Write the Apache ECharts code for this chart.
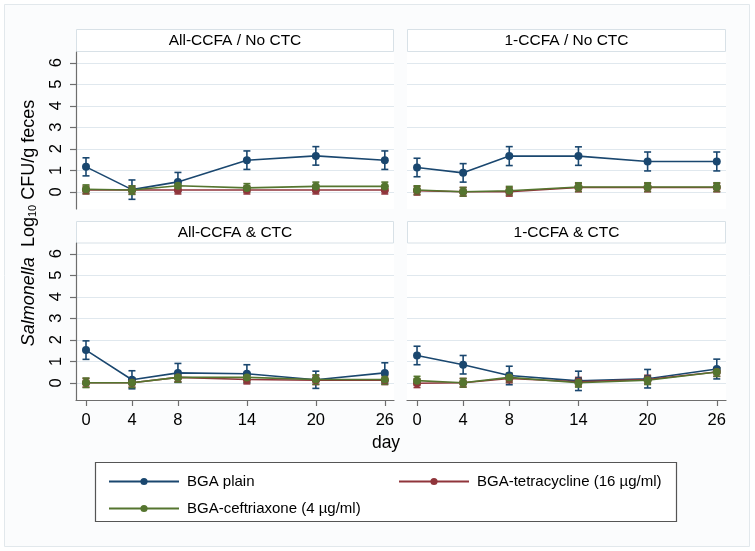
<!DOCTYPE html>
<html>
<head>
<meta charset="utf-8">
<script src="https://cdn.jsdelivr.net/npm/echarts@6/dist/echarts.min.js"></script>
<style>html,body{margin:0;padding:0;background:#fff}#chart{width:755px;height:551px}</style>
</head>
<body>
<div id="chart"></div>
<script>
// ---------- data ----------
const days = [0, 4, 8, 14, 20, 26];
const yTicks = [0, 1, 2, 3, 4, 5, 6];
const panelTitles = ['All-CCFA / No CTC', '1-CCFA / No CTC', 'All-CCFA & CTC', '1-CCFA & CTC'];
const seriesNames = ['BGA plain', 'BGA-tetracycline (16 µg/ml)', 'BGA-ceftriaxone (4 µg/ml)'];

// All-CCFA / No CTC
const allNoCtcPlain = [1.16, 0.10, 0.46, 1.47, 1.67, 1.47];
const allNoCtcPlainErr = [0.42, 0.45, 0.44, 0.43, 0.43, 0.43];
const allNoCtcTetra = [0.08, 0.08, 0.08, 0.08, 0.08, 0.08];
const allNoCtcTetraErr = [0.18, 0.18, 0.18, 0.18, 0.18, 0.18];
const allNoCtcCeft = [0.12, 0.08, 0.28, 0.18, 0.25, 0.25];
const allNoCtcCeftErr = [0.20, 0.20, 0.20, 0.20, 0.20, 0.20];

// 1-CCFA / No CTC
const oneNoCtcPlain = [1.13, 0.88, 1.66, 1.66, 1.41, 1.41];
const oneNoCtcPlainErr = [0.43, 0.43, 0.44, 0.43, 0.44, 0.44];
const oneNoCtcTetra = [0.05, 0.00, 0.00, 0.20, 0.20, 0.20];
const oneNoCtcTetraErr = [0.20, 0.20, 0.20, 0.20, 0.20, 0.20];
const oneNoCtcCeft = [0.08, 0.00, 0.05, 0.22, 0.22, 0.22];
const oneNoCtcCeftErr = [0.20, 0.20, 0.20, 0.20, 0.20, 0.20];

// All-CCFA & CTC
const allCtcPlain = [1.52, 0.14, 0.46, 0.42, 0.14, 0.46];
const allCtcPlainErr = [0.43, 0.42, 0.44, 0.42, 0.40, 0.47];
const allCtcTetra = [0.00, 0.00, 0.25, 0.15, 0.12, 0.12];
const allCtcTetraErr = [0.20, 0.20, 0.20, 0.20, 0.20, 0.20];
const allCtcCeft = [0.00, 0.00, 0.25, 0.25, 0.15, 0.15];
const allCtcCeftErr = [0.22, 0.22, 0.22, 0.22, 0.22, 0.22];

// 1-CCFA & CTC
const oneCtcPlain = [1.27, 0.84, 0.34, 0.09, 0.19, 0.64];
const oneCtcPlainErr = [0.43, 0.43, 0.43, 0.45, 0.43, 0.46];
const oneCtcTetra = [-0.02, 0.00, 0.20, 0.05, 0.15, 0.50];
const oneCtcTetraErr = [0.20, 0.20, 0.20, 0.20, 0.20, 0.20];
const oneCtcCeft = [0.10, 0.00, 0.25, 0.00, 0.12, 0.50];
const oneCtcCeftErr = [0.20, 0.20, 0.20, 0.20, 0.20, 0.20];

// ---------- layout / style ----------
const FONT = 'Liberation Sans, Arial, sans-serif';
const colors = ['#1a476f', '#90353b', '#55752f'];
const panels = [
  [[allNoCtcPlain, allNoCtcPlainErr], [allNoCtcTetra, allNoCtcTetraErr], [allNoCtcCeft, allNoCtcCeftErr]],
  [[oneNoCtcPlain, oneNoCtcPlainErr], [oneNoCtcTetra, oneNoCtcTetraErr], [oneNoCtcCeft, oneNoCtcCeftErr]],
  [[allCtcPlain, allCtcPlainErr], [allCtcTetra, allCtcTetraErr], [allCtcCeft, allCtcCeftErr]],
  [[oneCtcPlain, oneCtcPlainErr], [oneCtcTetra, oneCtcTetraErr], [oneCtcCeft, oneCtcCeftErr]]
];
const gridBoxes = [
  {left: 76, top: 52, width: 318, height: 157},
  {left: 407, top: 52, width: 319, height: 157},
  {left: 76, top: 243, width: 318, height: 157},
  {left: 407, top: 243, width: 319, height: 157}
];
const strips = [
  {x: 76, y: 29.5, w: 318, h: 22},
  {x: 407, y: 29.5, w: 319, h: 22},
  {x: 76, y: 221.5, w: 318, h: 21.5},
  {x: 407, y: 221.5, w: 319, h: 21.5}
];

const grids = gridBoxes.map(g => Object.assign({containLabel: false}, g));
const xAxes = gridBoxes.map((g, i) => ({
  type: 'value', gridIndex: i, min: -0.87, max: 26.8,
  show: i >= 2,
  axisLine: {show: true, onZero: false, lineStyle: {color: '#6e6e6e', width: 1.2}},
  axisTick: {show: true, length: 6, customValues: days, lineStyle: {color: '#6e6e6e', width: 1.2}},
  axisLabel: {show: true, customValues: days, fontSize: 16.5, fontFamily: FONT, color: '#000', margin: 12},
  splitLine: {show: false}
}));
const yAxes = gridBoxes.map((g, i) => ({
  type: 'value', gridIndex: i, min: -0.8, max: 6.5,
  axisLine: {show: i % 2 === 0, onZero: false, lineStyle: {color: '#6e6e6e', width: 1.2}},
  axisTick: {show: i % 2 === 0, length: 6, customValues: yTicks, lineStyle: {color: '#6e6e6e', width: 1.2}},
  axisLabel: {show: i % 2 === 0, customValues: yTicks, rotate: 90, fontSize: 16.5, fontFamily: FONT, color: '#000', margin: 11},
  splitLine: {show: true, lineStyle: {color: '#e0e8ee', width: 1.2}}
}));

const series = [];
panels.forEach((panel, pi) => {
  panel.forEach(([mean, err], si) => {
    const col = colors[si];
    series.push({
      type: 'custom', name: seriesNames[si] + ' CI', xAxisIndex: pi, yAxisIndex: pi,
      data: days.map((d, k) => [d, mean[k] - err[k], mean[k] + err[k]]),
      encode: {x: 0, y: [1, 2]},
      renderItem: function (params, api) {
        const x = api.value(0);
        const pLo = api.coord([x, api.value(1)]);
        const pHi = api.coord([x, api.value(2)]);
        const w = 3.5;
        const st = {stroke: col, lineWidth: 1.6, fill: null};
        return {type: 'group', children: [
          {type: 'line', shape: {x1: pLo[0], y1: pLo[1], x2: pHi[0], y2: pHi[1]}, style: st},
          {type: 'line', shape: {x1: pLo[0] - w, y1: pLo[1], x2: pLo[0] + w, y2: pLo[1]}, style: st},
          {type: 'line', shape: {x1: pHi[0] - w, y1: pHi[1], x2: pHi[0] + w, y2: pHi[1]}, style: st}
        ]};
      },
      silent: true, animation: false
    });
    series.push({
      type: 'line', name: seriesNames[si], xAxisIndex: pi, yAxisIndex: pi,
      data: days.map((d, k) => [d, mean[k]]),
      symbol: 'circle', symbolSize: 8, showSymbol: true,
      itemStyle: {color: col}, lineStyle: {color: col, width: 1.6},
      animation: false, silent: true
    });
  });
});

const graphics = [
  {type: 'rect', shape: {x: 4.5, y: 4.5, width: 745, height: 542}, style: {fill: '#fbfcfd', stroke: '#e2e8ec', lineWidth: 1}, z: -10},
  {type: 'rect', shape: {x: 95.5, y: 462.5, width: 581, height: 59}, style: {fill: '#ffffff', stroke: '#555', lineWidth: 1.2}, z: -5},
  {type: 'text', x: 29, y: 223, rotation: Math.PI / 2,
    style: {text: '{it|Salmonella}  Log{sub|10} CFU/g feces', fontSize: 18, fontFamily: FONT, fill: '#000',
      align: 'center', verticalAlign: 'middle',
      rich: {it: {fontStyle: 'italic', fontSize: 18, fontFamily: FONT}, sub: {fontSize: 11, fontFamily: FONT, verticalAlign: 'bottom', padding: [6, 0, 0, 0]}}}},
  {type: 'text', x: 386, y: 443, style: {text: 'day', fontSize: 17.5, fontFamily: FONT, fill: '#000', align: 'center', verticalAlign: 'middle'}}
];
strips.forEach((s, i) => {
  graphics.push({type: 'rect', shape: {x: s.x + 0.5, y: s.y, width: s.w - 1, height: s.h}, style: {fill: '#fff', stroke: '#d8e1e7', lineWidth: 1}, z: -4});
  graphics.push({type: 'text', x: s.x + s.w / 2, y: s.y + s.h / 2 + 0.5, style: {text: panelTitles[i], fontSize: 15.5, fontFamily: FONT, fill: '#000', align: 'center', verticalAlign: 'middle'}});
});
// plot-area white backgrounds
gridBoxes.forEach(g => {
  graphics.push({type: 'rect', shape: {x: g.left, y: g.top, width: g.width, height: g.height}, style: {fill: '#fff'}, z: -6});
});

const legendText = {fontSize: 15, fontFamily: FONT, color: '#000', padding: [0, 0, 0, 3]};
const option = {
  backgroundColor: '#ffffff',
  animation: false,
  grid: grids, xAxis: xAxes, yAxis: yAxes,
  legend: [
    {left: 103, top: 469, orient: 'vertical', itemWidth: 70, itemHeight: 9, itemGap: 12,
      data: [seriesNames[0], seriesNames[2]], textStyle: legendText, selectedMode: false},
    {left: 393, top: 469, orient: 'vertical', itemWidth: 70, itemHeight: 9, itemGap: 12,
      data: [seriesNames[1]], textStyle: legendText, selectedMode: false}
  ],
  graphic: graphics,
  series: series
};
const chart = echarts.init(document.getElementById('chart'), null, {renderer: 'canvas'});
chart.setOption(option);
</script>
</body>
</html>
